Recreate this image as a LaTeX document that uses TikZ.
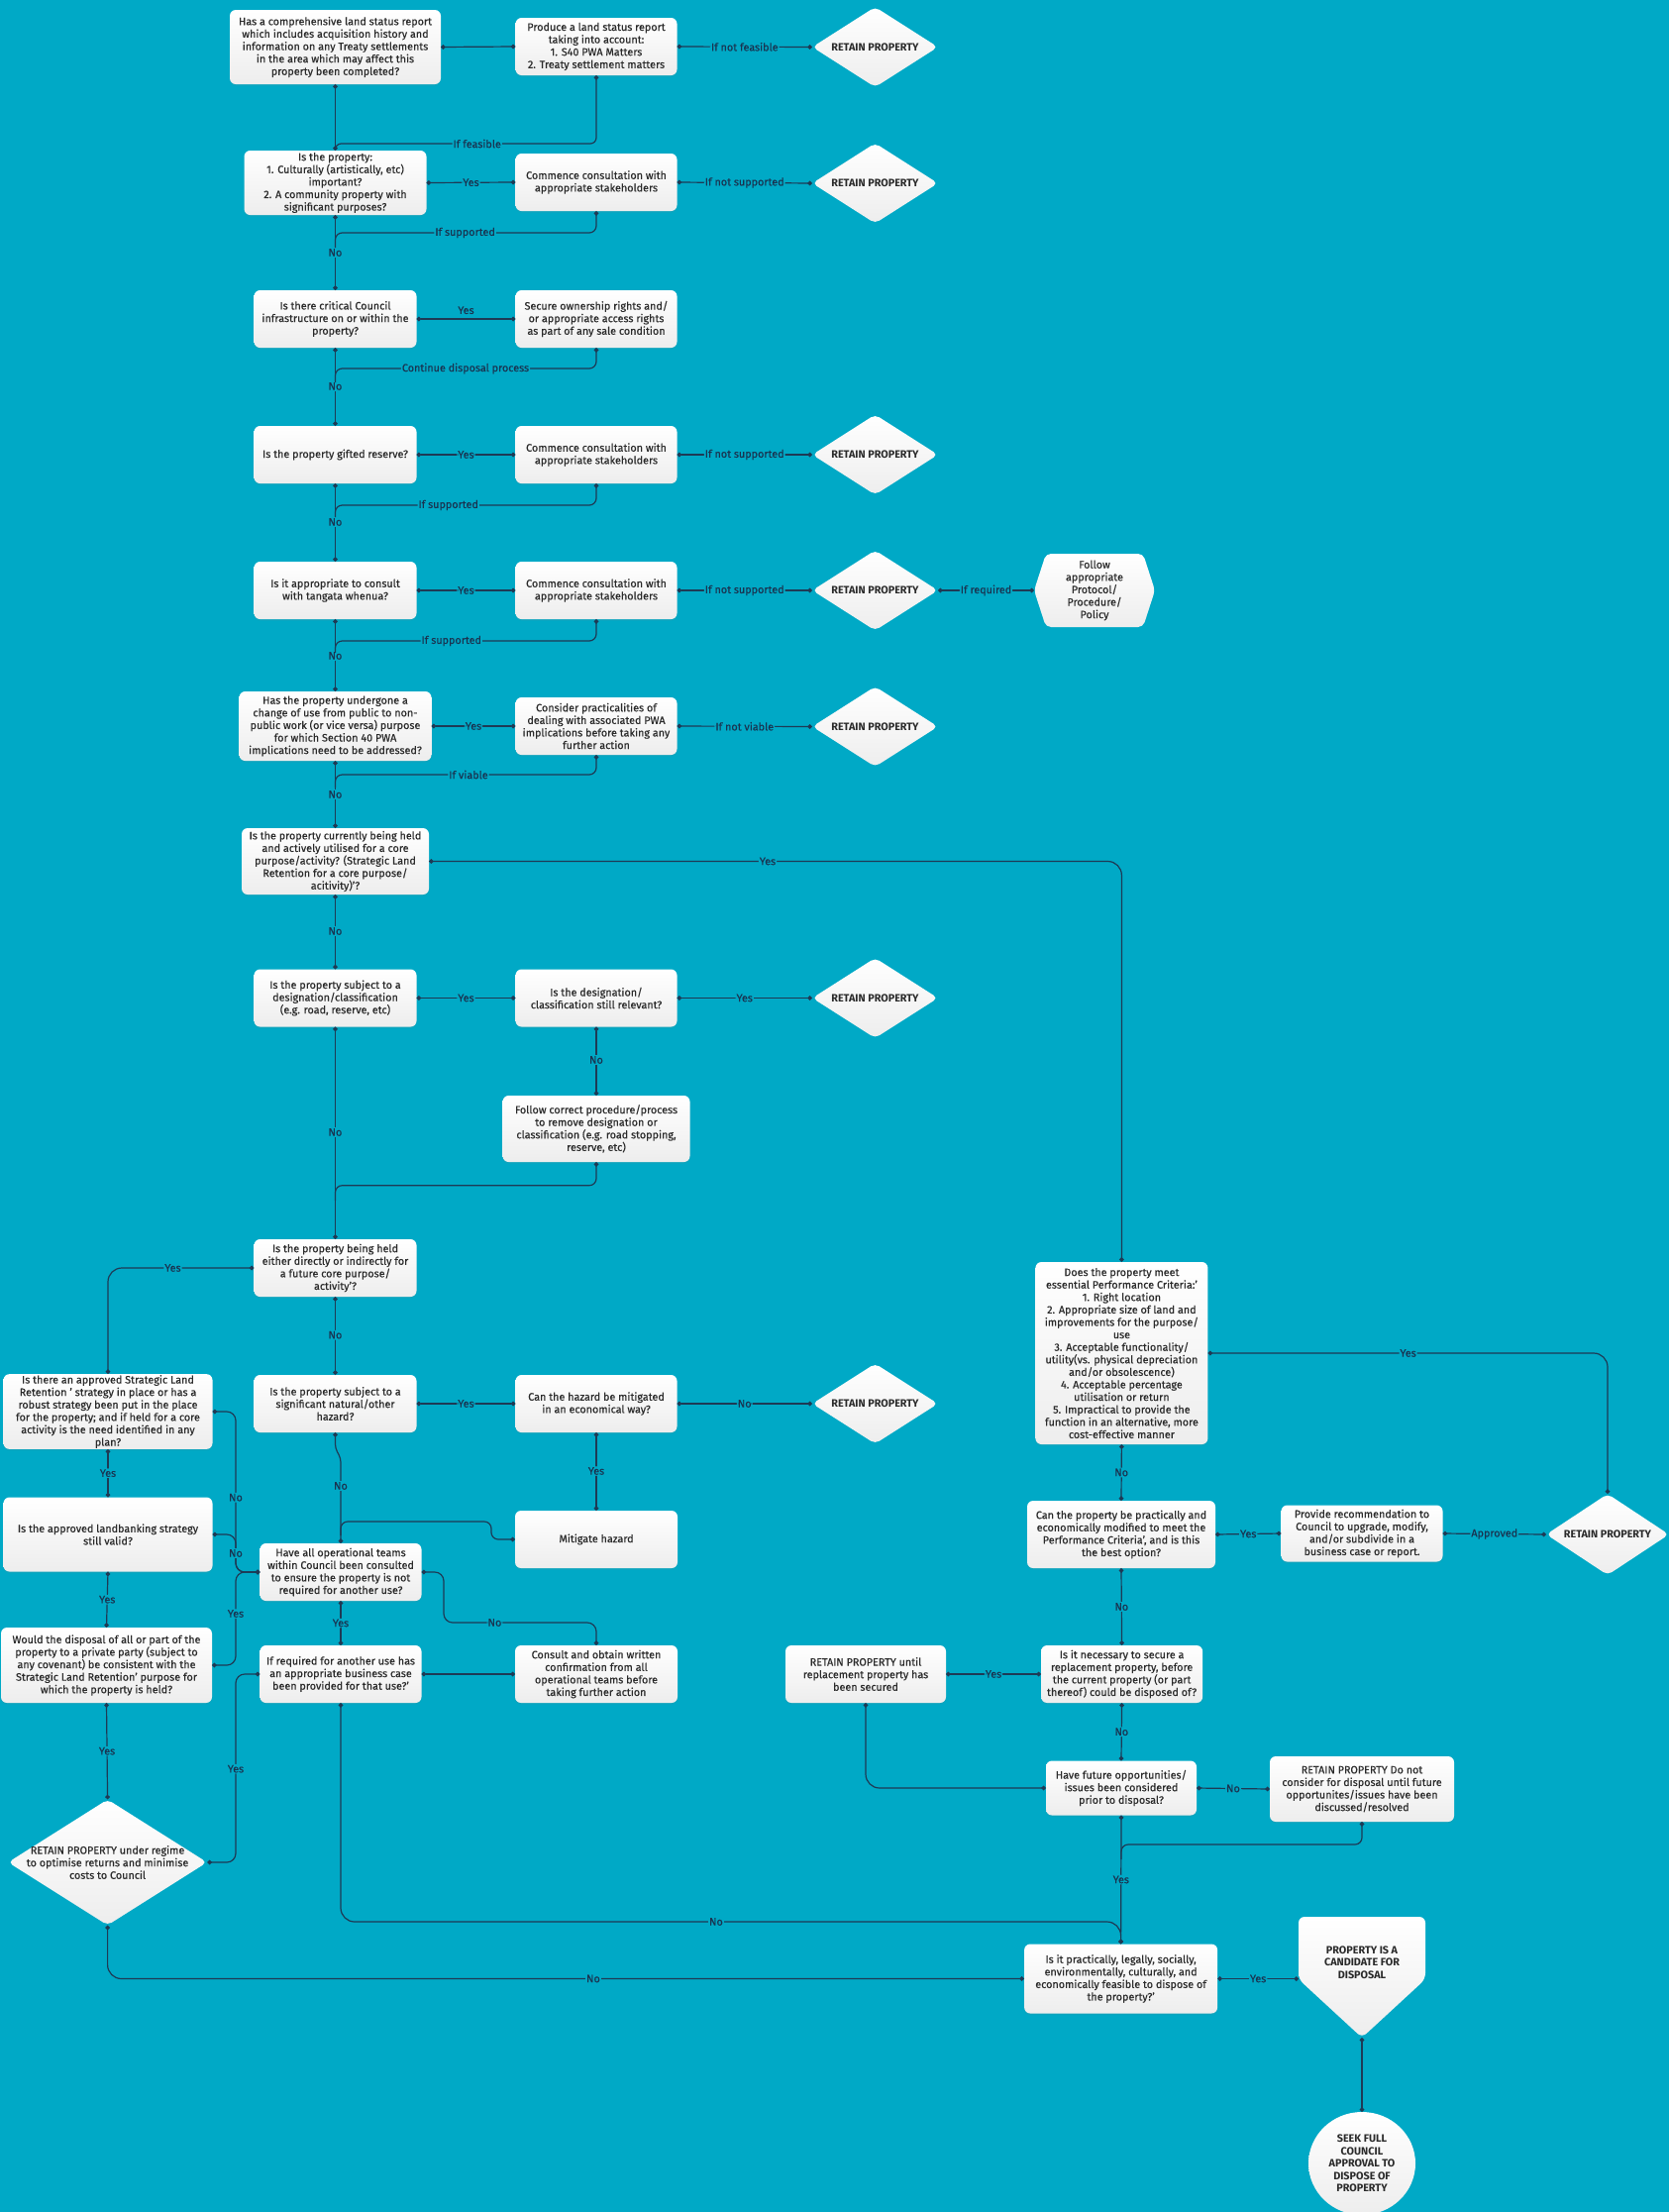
\documentclass[tikz,border=0pt]{standalone}
\usepackage{fontspec}
\setmainfont{Fira Sans}[UprightFeatures={FakeBold=0.35}]
\usetikzlibrary{shapes.geometric,arrows.meta,shadows}
\definecolor{bgc}{HTML}{00A9C6}
\definecolor{linec}{HTML}{1E3A55}
\definecolor{txtc}{HTML}{2A2A2A}
\definecolor{lblc}{HTML}{1A3350}
\newcommand\mynfont{\fontsize{10.8}{12.6}\selectfont}
\newcommand\mylfont{\fontsize{10.8}{12}\selectfont}
\begin{document}
\begin{tikzpicture}[x=1pt,y=-1pt,
  box/.style={rounded corners=6pt, top color=white, bottom color=black!7, align=center, text=txtc, font=\mynfont, inner sep=1pt, drop shadow={opacity=0.12, shadow xshift=0pt, shadow yshift=-1.5pt}},
  dia/.style={diamond, rounded corners=5pt, top color=white, bottom color=black!7, inner sep=0pt},
  conn/.style={draw=linec, line width=1.2pt, rounded corners=9pt, {Circle[length=4.5pt]}-{Circle[length=4.5pt]}},
  connm/.style={draw=linec, line width=1.2pt, rounded corners=7pt, {Circle[length=4.5pt]}-},
  lbl/.style={fill=bgc, text=lblc, font=\mylfont, inner sep=1pt},
  plain/.style={align=center, text=txtc, font=\mynfont, inner sep=0pt},
  rp/.style={align=center, text=txtc, font=\mynfont\bfseries, inner sep=0pt}
]
\useasboundingbox (0,0) rectangle (1685,2233);
\fill[bgc] (0,0) rectangle (1685,2233);

% ---------- nodes: main column ----------
\node[box, minimum width=213, minimum height=75] (A1) at (338.5,47.5) {Has a comprehensive land status report\\which includes acquisition history and\\information on any Treaty settlements\\in the area which may affect this\\property been completed?};
\node[box, minimum width=163, minimum height=58] (B1) at (602,47) {Produce a land status report\\taking into account:\\1. S40 PWA Matters\\2. Treaty settlement matters};
\node[dia, minimum width=127, minimum height=81] (R1) at (883.5,47.5) {};
\node[rp] (R1t) at (R1) {RETAIN PROPERTY};

\node[box, minimum width=184, minimum height=65] (A2) at (338.5,184.5) {Is the property:\\1. Culturally (artistically, etc)\\important?\\2. A community property with\\significant purposes?};
\node[box, minimum width=163, minimum height=58] (B2) at (602,184) {Commence consultation with\\appropriate stakeholders};
\node[dia, minimum width=127, minimum height=81] (R2) at (883.5,185) {};
\node[rp] (R2t) at (R2) {RETAIN PROPERTY};

\node[box, minimum width=164, minimum height=58] (A3) at (338.5,322) {Is there critical Council\\infrastructure on or within the\\property?};
\node[box, minimum width=163, minimum height=58] (B3) at (602,322) {Secure ownership rights and/\\or appropriate access rights\\as part of any sale condition};

\node[box, minimum width=164, minimum height=58] (A4) at (338.5,459) {Is the property gifted reserve?};
\node[box, minimum width=163, minimum height=58] (B4) at (602,459) {Commence consultation with\\appropriate stakeholders};
\node[dia, minimum width=127, minimum height=81] (R4) at (883.5,459) {};
\node[rp] (R4t) at (R4) {RETAIN PROPERTY};

\node[box, minimum width=164, minimum height=58] (A5) at (338.5,596) {Is it appropriate to consult\\with tangata whenua?};
\node[box, minimum width=163, minimum height=58] (B5) at (602,596) {Commence consultation with\\appropriate stakeholders};
\node[dia, minimum width=127, minimum height=81] (R5) at (883.5,596) {};
\node[rp] (R5t) at (R5) {RETAIN PROPERTY};
\path[top color=white, bottom color=black!7, rounded corners=5pt] (1044,596) -- (1056,559) -- (1154,559) -- (1166,596) -- (1154,633) -- (1056,633) -- cycle;
\node[plain, minimum width=122, minimum height=74] (F5) at (1105,596) {Follow\\appropriate\\Protocol/\\Procedure/\\Policy};

\node[box, minimum width=194, minimum height=70] (A6) at (338.5,733) {Has the property undergone a\\change of use from public to non-\\public work (or vice versa) purpose\\for which Section 40 PWA\\implications need to be addressed?};
\node[box, minimum width=163, minimum height=58] (B6) at (602,733) {Consider practicalities of\\dealing with associated PWA\\implications before taking any\\further action};
\node[dia, minimum width=127, minimum height=81] (R6) at (883.5,733.5) {};
\node[rp] (R6t) at (R6) {RETAIN PROPERTY};

\node[box, minimum width=189, minimum height=67] (A7) at (338.5,869.5) {Is the property currently being held\\and actively utilised for a core\\purpose/activity? (Strategic Land\\Retention for a core purpose/\\acitivity)'?};

\node[box, minimum width=164, minimum height=58] (A8) at (338.5,1007.5) {Is the property subject to a\\designation/classification\\(e.g. road, reserve, etc)};
\node[box, minimum width=163, minimum height=58] (B8) at (602,1007.5) {Is the designation/\\classification still relevant?};
\node[dia, minimum width=127, minimum height=81] (R8) at (883.5,1007.5) {};
\node[rp] (R8t) at (R8) {RETAIN PROPERTY};
\node[box, minimum width=189, minimum height=67] (C8) at (602,1139.5) {Follow correct procedure/process\\to remove designation or\\classification (e.g. road stopping,\\reserve, etc)};

\node[box, minimum width=164, minimum height=58] (A9) at (338.5,1280) {Is the property being held\\either directly or indirectly for\\a future core purpose/\\activity'?};

\node[box, minimum width=164, minimum height=58] (A10) at (338.5,1417) {Is the property subject to a\\significant natural/other\\hazard?};
\node[box, minimum width=163, minimum height=58] (B10) at (602,1417) {Can the hazard be mitigated\\in an economical way?};
\node[dia, minimum width=127, minimum height=81] (R10) at (883.5,1417) {};
\node[rp] (R10t) at (R10) {RETAIN PROPERTY};
\node[box, minimum width=164, minimum height=58] (M2) at (602,1554) {Mitigate hazard};

\node[box, minimum width=163, minimum height=58] (A11) at (344,1587) {Have all operational teams\\within Council been consulted\\to ensure the property is not\\required for another use?};
\node[box, minimum width=163, minimum height=58] (A12) at (344,1690) {If required for another use has\\an appropriate business case\\been provided for that use?'};
\node[box, minimum width=164, minimum height=58] (C12) at (602,1690) {Consult and obtain written\\confirmation from all\\operational teams before\\taking further action};

% ---------- left column ----------
\node[box, minimum width=211, minimum height=75] (L1) at (109,1425) {Is there an approved Strategic Land\\Retention ' strategy in place or has a\\robust strategy been put in the place\\for the property; and if held for a core\\activity is the need identified in any\\plan?};
\node[box, minimum width=211, minimum height=75] (L2) at (109,1549) {Is the approved landbanking strategy\\still valid?};
\node[box, minimum width=213, minimum height=76] (L3) at (107.5,1681) {Would the disposal of all or part of the\\property to a private party (subject to\\any covenant) be consistent with the\\Strategic Land Retention' purpose for\\which the property is held?};
\node[dia, minimum width=201, minimum height=127] (R12) at (108.6,1880) {};
\node[plain] (R12t) at (R12) {RETAIN PROPERTY under regime\\to optimise returns and minimise\\costs to Council};

% ---------- right column ----------
\node[box, minimum width=174, minimum height=184] (P) at (1132.4,1366) {Does the property meet\\essential Performance Criteria:'\\1. Right location\\2. Appropriate size of land and\\improvements for the purpose/\\use\\3. Acceptable functionality/\\utility(vs. physical depreciation\\and/or obsolescence)\\4. Acceptable percentage\\utilisation or return\\5. Impractical to provide the\\function in an alternative, more\\cost-effective manner};
\node[box, minimum width=190, minimum height=68] (M) at (1132,1549) {Can the property be practically and\\economically modified to meet the\\Performance Criteria', and is this\\the best option?};
\node[box, minimum width=163, minimum height=57] (N) at (1375,1548) {Provide recommendation to\\Council to upgrade, modify,\\and/or subdivide in a\\business case or report.};
\node[dia, minimum width=124, minimum height=82] (R11) at (1623,1549) {};
\node[rp] (R11t) at (R11) {RETAIN PROPERTY};
\node[box, minimum width=163, minimum height=58] (Q) at (1132.6,1690) {Is it necessary to secure a\\replacement property, before\\the current property  (or part\\thereof) could be disposed of?};
\node[box, minimum width=162, minimum height=58] (S) at (874,1690) {RETAIN PROPERTY until\\replacement property has\\been secured};
\node[box, minimum width=152, minimum height=55] (T) at (1132,1805) {Have future opportunities/\\issues been considered\\prior to disposal?};
\node[box, minimum width=186, minimum height=66] (U) at (1375,1806) {RETAIN PROPERTY Do not\\consider for disposal until future\\opportunites/issues have been\\discussed/resolved};
\node[box, minimum width=195, minimum height=70] (V) at (1131.6,1997.5) {Is it practically, legally, socially,\\environmentally, culturally, and\\economically feasible to dispose of\\the property?'};
\path[top color=white, bottom color=black!7, rounded corners=6pt] (1311,1935) -- (1439,1935) -- (1439,1998) -- (1375,2057) -- (1311,1998) -- cycle;
\node[rp] (W) at (1375,1981) {PROPERTY IS A\\CANDIDATE FOR\\DISPOSAL};
\coordinate (Wl) at (1311,1997.5);
\coordinate (Wb) at (1375,2057);
\node[ellipse, top color=white, bottom color=black!7, align=center, text=txtc, font=\mynfont\bfseries, inner sep=0pt, minimum width=108, minimum height=104] (X) at (1375,2184) {SEEK FULL\\COUNCIL\\APPROVAL TO\\DISPOSE OF\\PROPERTY};

% ---------- connectors: top rows ----------
\draw[conn] (A1.east) -- (B1.west);
\draw[conn] (B1.east) -- node[lbl]{If not feasible} (R1.west);
\draw[conn] (A1.south) -- (A2.north);
\draw[connm, rounded corners=6pt] (B1.south) -- (602,145) -- (481.7,145) node[lbl]{If feasible} -- (338.5,145) -- (A2.north);

\draw[conn] (A2.east) -- node[lbl]{Yes} (B2.west);
\draw[conn] (B2.east) -- node[lbl]{If not supported} (R2.west);
\draw[conn] (A2.south) -- (338.5,255) node[lbl]{No} -- (A3.north);
\draw[connm] (B2.south) -- (602,235) -- (469.6,235) node[lbl]{If supported} -- (338.5,235) -- (338.5,250);

\draw[conn] (A3.east) -- node[text=lblc, font=\mylfont, above=1pt]{Yes} (B3.west);
\draw[conn] (A3.south) -- (338.5,390) node[lbl]{No} -- (A4.north);
\draw[connm] (B3.south) -- (602,372) -- (470,372) node[lbl]{Continue disposal process} -- (338.5,372) -- (338.5,386);

\draw[conn] (A4.east) -- node[lbl]{Yes} (B4.west);
\draw[conn] (B4.east) -- node[lbl]{If not supported} (R4.west);
\draw[conn] (A4.south) -- (338.5,527) node[lbl]{No} -- (A5.north);
\draw[connm] (B4.south) -- (602,510) -- (452.7,510) node[lbl]{If supported} -- (338.5,510) -- (338.5,522);

\draw[conn] (A5.east) -- node[lbl]{Yes} (B5.west);
\draw[conn] (B5.east) -- node[lbl]{If not supported} (R5.west);
\draw[conn] (F5.west) -- node[lbl]{If required} (R5.east);
\draw[conn] (A5.south) -- (338.5,662) node[lbl]{No} -- (A6.north);
\draw[connm] (B5.south) -- (602,647) -- (455.8,647) node[lbl]{If supported} -- (338.5,647) -- (338.5,659);

\draw[conn] (A6.east) -- node[lbl]{Yes} (B6.west);
\draw[conn] (B6.east) -- node[lbl]{If not viable} (R6.west);
\draw[conn] (A6.south) -- (338.5,802) node[lbl]{No} -- (A7.north);
\draw[connm] (B6.south) -- (602,782) -- (473,782) node[lbl]{If viable} -- (338.5,782) -- (338.5,795);

\draw[conn, rounded corners=14pt] (A7.east) -- (775,869.5) node[lbl]{Yes} -| (P.north);
\draw[conn] (A7.south) -- (338.5,940) node[lbl]{No} -- (A8.north);

\draw[conn] (A8.east) -- node[lbl]{Yes} (B8.west);
\draw[conn] (B8.east) -- node[lbl]{Yes} (R8.west);
\draw[conn] (B8.south) -- (602,1070) node[lbl]{No} -- (C8.north);
\draw[conn] (A8.south) -- (338.5,1143) node[lbl]{No} -- (A9.north);
\draw[connm] (C8.south) -- (602,1196.7) -- (338.5,1196.7) -- (338.5,1212);

% ---------- middle area ----------
\draw[conn, rounded corners=14pt] (A9.west) -- (174.5,1280) node[lbl]{Yes} -| (L1.north);
\draw[conn] (A9.south) -- (338.5,1347.7) node[lbl]{No} -- (A10.north);
\draw[conn] (A10.east) -- node[lbl]{Yes} (B10.west);
\draw[conn] (B10.east) -- node[lbl]{No} (R10.west);
\draw[conn] (B10.south) -- (602,1485) node[lbl]{Yes} -- (M2.north);
\draw[conn, rounded corners=4pt] (A10.south) -- (338.5,1462) -- (344,1472) -- (344,1500) node[lbl]{No} -- (A11.north);
\draw[connm] (M2.west) -- (496,1554) -- (496,1536) -- (344,1536) -- (344,1550);

\draw[conn] (L1.south) -- node[lbl]{Yes} (L2.north);
\draw[conn] (L2.south) -- node[lbl]{Yes} (L3.north);
\draw[conn] (L3.south) -- node[lbl]{Yes} (R12.north);
\draw[conn] (L1.east) -- (238,1425) -- (238,1511.7) node[lbl]{No} -- (238,1587) -- (A11.west);
\draw[conn] (L2.east) -- (238,1549) -- (238,1568) node[lbl]{No} -- (238,1587) -- (A11.west);
\draw[conn] (L3.east) -- (238,1681) -- (238,1629) node[lbl]{Yes} -- (238,1587) -- (A11.west);
\draw[conn] (R12.east) -- (238,1880) -- (238,1785.7) node[lbl]{Yes} -- (238,1690) -- (A12.west);

\draw[conn] (A11.east) -- (448,1587) -- (448,1638) -- (499.5,1638) node[lbl]{No} -- (602,1638) -- (C12.north);
\draw[conn] (A11.south) -- node[lbl]{Yes} (A12.north);
\draw[conn] (C12.west) -- (A12.east);

\draw[conn, rounded corners=14pt] (A12.south) -- (344,1940) -- (723,1940) node[lbl]{No} -- (1131.6,1940) -- (V.north);
\draw[conn, rounded corners=14pt] (R12.south) -- (108.6,1997.5) -- (599,1997.5) node[lbl]{No} -- (V.west);

% ---------- right area ----------
\draw[conn] (P.south) -- node[lbl]{No} (M.north);
\draw[conn, rounded corners=14pt] (P.east) -- (1421.6,1366) node[lbl]{Yes} -| (R11.north);
\draw[conn] (M.east) -- node[lbl]{Yes} (N.west);
\draw[conn] (R11.west) -- node[lbl]{Approved} (N.east);
\draw[conn] (M.south) -- node[lbl]{No} (Q.north);
\draw[conn] (Q.west) -- node[lbl]{Yes} (S.east);
\draw[conn] (Q.south) -- node[lbl]{No} (T.north);
\draw[conn, rounded corners=14pt] (S.south) |- (T.west);
\draw[conn] (T.east) -- node[lbl]{No} (U.west);
\draw[conn] (T.south) -- node[lbl]{Yes} (V.north);
\draw[connm] (U.south) -- (1375,1862) -- (1132,1862) -- (1132,1877);
\draw[conn] (V.east) -- node[lbl]{Yes} (Wl);
\draw[conn] (Wb) -- (X.north);
\end{tikzpicture}
\end{document}
